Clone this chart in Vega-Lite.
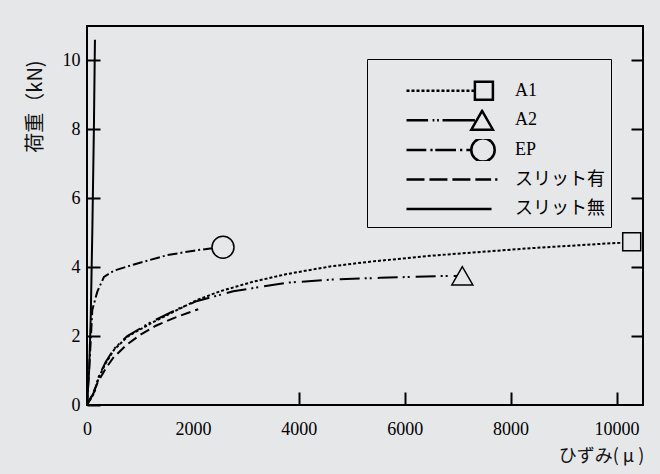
{
  "$schema": "https://vega.github.io/schema/vega-lite/v6.json",
  "width": 556,
  "height": 379,
  "autosize": {"type": "none"},
  "padding": {"left": 87, "top": 26, "right": 17, "bottom": 69},
  "background": "#e6e7e9",
  "config": {
    "view": {"stroke": "#000", "strokeWidth": 2},
    "axis": {"domain": false, "grid": false, "labelColor": "#000", "tickColor": "#000"}
  },
  "datasets": {
    "curves": [
      {"series": "A1", "strain": 0, "load": 0},
      {"series": "A1", "strain": 132, "load": 0.34},
      {"series": "A1", "strain": 227, "load": 0.82},
      {"series": "A1", "strain": 353, "load": 1.21},
      {"series": "A1", "strain": 510, "load": 1.6},
      {"series": "A1", "strain": 761, "load": 1.98},
      {"series": "A1", "strain": 1203, "load": 2.37},
      {"series": "A1", "strain": 1705, "load": 2.76},
      {"series": "A1", "strain": 2083, "load": 3.05},
      {"series": "A1", "strain": 2512, "load": 3.3},
      {"series": "A1", "strain": 3141, "load": 3.58},
      {"series": "A1", "strain": 3771, "load": 3.8},
      {"series": "A1", "strain": 4589, "load": 4.02},
      {"series": "A1", "strain": 5345, "load": 4.16},
      {"series": "A1", "strain": 6478, "load": 4.33},
      {"series": "A1", "strain": 8366, "load": 4.55},
      {"series": "A1", "strain": 10066, "load": 4.71},
      {"series": "A1", "strain": 10287, "load": 4.74},
      {"series": "A2", "strain": 0, "load": 0},
      {"series": "A2", "strain": 132, "load": 0.37},
      {"series": "A2", "strain": 227, "load": 0.85},
      {"series": "A2", "strain": 353, "load": 1.25},
      {"series": "A2", "strain": 510, "load": 1.63},
      {"series": "A2", "strain": 761, "load": 2.0},
      {"series": "A2", "strain": 1203, "load": 2.4},
      {"series": "A2", "strain": 1705, "load": 2.78},
      {"series": "A2", "strain": 2083, "load": 3.02},
      {"series": "A2", "strain": 2763, "load": 3.3},
      {"series": "A2", "strain": 3771, "load": 3.55},
      {"series": "A2", "strain": 4716, "load": 3.65},
      {"series": "A2", "strain": 5534, "load": 3.69},
      {"series": "A2", "strain": 6604, "load": 3.74},
      {"series": "A2", "strain": 7088, "load": 3.75},
      {"series": "EP", "strain": 0, "load": 0},
      {"series": "EP", "strain": 40, "load": 1.0},
      {"series": "EP", "strain": 75, "load": 2.0},
      {"series": "EP", "strain": 100, "load": 2.76},
      {"series": "EP", "strain": 195, "load": 3.29},
      {"series": "EP", "strain": 321, "load": 3.72},
      {"series": "EP", "strain": 510, "load": 3.9},
      {"series": "EP", "strain": 888, "load": 4.08},
      {"series": "EP", "strain": 1517, "load": 4.35},
      {"series": "EP", "strain": 2021, "load": 4.48},
      {"series": "EP", "strain": 2366, "load": 4.55},
      {"series": "EP", "strain": 2568, "load": 4.58},
      {"series": "スリット有", "strain": 0, "load": 0},
      {"series": "スリット有", "strain": 100, "load": 0.3},
      {"series": "スリット有", "strain": 200, "load": 0.65},
      {"series": "スリット有", "strain": 350, "load": 1.05},
      {"series": "スリット有", "strain": 500, "load": 1.38},
      {"series": "スリット有", "strain": 750, "load": 1.75},
      {"series": "スリット有", "strain": 1000, "load": 2.03},
      {"series": "スリット有", "strain": 1300, "load": 2.3},
      {"series": "スリット有", "strain": 1650, "load": 2.53},
      {"series": "スリット有", "strain": 2100, "load": 2.78},
      {"series": "スリット無", "strain": 0, "load": 0},
      {"series": "スリット無", "strain": 40, "load": 1.0},
      {"series": "スリット無", "strain": 70, "load": 2.5},
      {"series": "スリット無", "strain": 100, "load": 5.0},
      {"series": "スリット無", "strain": 130, "load": 8.0},
      {"series": "スリット無", "strain": 150, "load": 10.6}
    ],
    "ends": [
      {"series": "A1", "strain": 10287, "load": 4.74},
      {"series": "A2", "strain": 7088, "load": 3.75},
      {"series": "EP", "strain": 2568, "load": 4.58}
    ]
  },
  "layer": [
    {
      "data": {"name": "curves"},
      "mark": {"type": "line", "color": "#000", "strokeWidth": 2},
      "encoding": {
        "x": {
          "field": "strain", "type": "quantitative",
          "scale": {"domain": [0, 10500], "nice": false, "zero": false},
          "axis": {
            "values": [0, 2000, 4000, 6000, 8000, 10000],
            "format": "d",
            "tickSize": -13, "tickWidth": 2,
            "tickOpacity": {"condition": {"test": "datum.value == 2000", "value": 0}, "value": 1},
            "labelFont": "Liberation Serif", "labelFontSize": 18, "labelPadding": 28,
            "labelFlush": false,
            "title": "ひずみ( μ )",
            "titleFont": "Noto Sans CJK JP", "titleFontSize": 18, "titleFontWeight": "normal", "titleColor": "#111",
            "titleX": 514, "titleY": 51, "titleAlign": "center", "titleBaseline": "middle", "titleAnchor": null
          }
        },
        "y": {
          "field": "load", "type": "quantitative",
          "scale": {"domain": [0, 11], "nice": false},
          "axis": {
            "values": [0, 2, 4, 6, 8, 10],
            "tickSize": -13, "tickWidth": 2,
            "labelFont": "Liberation Serif", "labelFontSize": 18, "labelPadding": 20,
            "title": "荷重（kN)",
            "titleFont": "Noto Sans CJK JP", "titleFontSize": 20, "titleFontWeight": "normal", "titleColor": "#111",
            "titleAngle": 270, "titleX": -52, "titleY": 80, "titleAlign": "center", "titleBaseline": "middle", "titleAnchor": null
          }
        },
        "strokeDash": {
          "field": "series", "type": "nominal",
          "scale": {
            "domain": ["スリット無", "スリット有", "EP", "A2", "A1"],
            "range": [[1, 0], [10, 5], [10, 3, 2, 3], [20, 5, 2, 3, 2, 6], [3, 2]]
          },
          "legend": null
        }
      }
    },
    {
      "data": {"name": "ends"},
      "transform": [{"filter": "datum.series == 'A1'"}],
      "mark": {"type": "point", "shape": "square", "size": 324, "filled": false, "fill": "#e6e7e9", "fillOpacity": 1, "stroke": "#000", "strokeWidth": 1.5, "opacity": 1},
      "encoding": {
        "x": {"field": "strain", "type": "quantitative"},
        "y": {"field": "load", "type": "quantitative", "axis": null}
      }
    },
    {
      "data": {"name": "ends"},
      "transform": [{"filter": "datum.series == 'A2'"}],
      "mark": {"type": "point", "shape": "triangle-up", "size": 441, "filled": false, "fill": "#e6e7e9", "fillOpacity": 1, "stroke": "#000", "strokeWidth": 1.5, "opacity": 1},
      "encoding": {
        "x": {"field": "strain", "type": "quantitative"},
        "y": {"field": "load", "type": "quantitative", "axis": null}
      }
    },
    {
      "data": {"name": "ends"},
      "transform": [{"filter": "datum.series == 'EP'"}],
      "mark": {"type": "point", "shape": "circle", "size": 484, "filled": false, "fill": "#e6e7e9", "fillOpacity": 1, "stroke": "#000", "strokeWidth": 1.5, "opacity": 1},
      "encoding": {
        "x": {"field": "strain", "type": "quantitative"},
        "y": {"field": "load", "type": "quantitative", "axis": null}
      }
    },
    {
      "data": {"name": "ends"},
      "transform": [{"filter": "datum.strain < 0"}],
      "mark": {"type": "point", "filled": false, "color": "#000", "strokeWidth": 2.5},
      "encoding": {
        "x": {"field": "strain", "type": "quantitative"},
        "y": {
          "field": "load", "type": "quantitative",
          "axis": {
            "orient": "right", "values": [2, 4, 6, 8, 10],
            "tickSize": -12, "tickWidth": 2, "labels": false, "title": null
          }
        },
        "shape": {
          "field": "series", "type": "nominal",
          "scale": {
            "domain": ["A1", "A2", "EP", "スリット有", "スリット無"],
            "range": [
              "M-1,0h0.067m0.044,0h0.067m0.044,0h0.067m0.044,0h0.067m0.044,0h0.067m0.044,0h0.067m0.044,0h0.067m0.044,0h0.067m0.044,0h0.067m0.044,0h0.067m0.044,0h0.067m0.044,0h0.067m0.044,0h0.067m0.044,0h0.067M0.52,-0.2h0.4v0.4h-0.4z",
              "M-1,0H-0.52M-0.42,0h0.04M-0.32,0h0.04M-0.2,0H0.52M0.68,-0.21L0.92,0.21L0.44,0.21Z",
              "M-1,0H-0.56M-0.47,0h0.05M-0.36,0H0.1M0.19,0h0.05M0.33,0H0.44M0.96,0A0.26,0.26,0,1,1,0.44,0A0.26,0.26,0,1,1,0.96,0Z",
              "M-1,0h0.4m0.11,0h0.4m0.11,0h0.4m0.11,0h0.35m0.09,0h0.05",
              "M-1,0H0.89"
            ]
          },
          "legend": {
            "orient": "none", "legendX": 280, "legendY": 33,
            "title": " ", "titleFontSize": 10, "titlePadding": 4.7,
            "padding": 6, "strokeColor": "#000", "fillColor": "#e6e7e9",
            "symbolSize": 8100, "symbolStrokeWidth": 2.5, "symbolStrokeColor": "#000",
            "symbolFillColor": "transparent", "symbolOpacity": 1,
            "symbolOffset": 32, "labelOffset": 17,
            "clipHeight": 22, "rowPadding": 7.6,
            "labelFont": "'Liberation Serif', 'Noto Sans CJK JP'", "labelFontSize": 18, "labelColor": "#000", "labelLimit": 200,
            "encoding": {"legend": {"update": {"strokeWidth": {"value": 1.5}}}}
          }
        }
      }
    }
  ],
  "resolve": {"axis": {"y": "independent"}}
}
